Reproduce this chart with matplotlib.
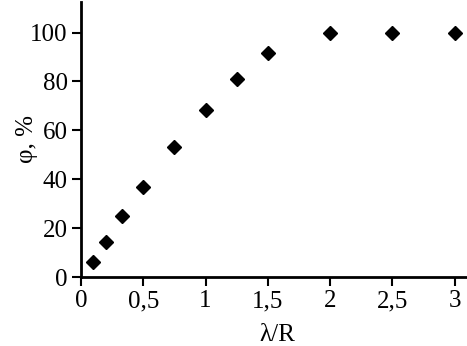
import matplotlib
matplotlib.use("Agg")
import matplotlib.pyplot as plt
from matplotlib.ticker import FuncFormatter

# data
ratio = [0.1, 0.2, 0.33, 0.5, 0.75, 1.0, 1.25, 1.5, 2.0, 2.5, 3.0]
phi = [6, 14.3, 25, 37, 53, 68.5, 81, 91.5, 100, 100, 100]
xticks = [0, 0.5, 1, 1.5, 2, 2.5, 3]
yticks = [0, 20, 40, 60, 80, 100]

plt.rcParams['font.family'] = ['Liberation Serif', 'DejaVu Serif']

fig = plt.figure(figsize=(4.67, 3.46), dpi=100)
ax = fig.add_axes([0.1734, 0.1994, 0.8266, 0.795])

ax.plot(ratio, phi, 'D', color='black', markersize=7.5, linestyle='none')

ax.set_xlim(0, 3.1)
ax.set_ylim(0, 112.5)
ax.set_xticks(xticks)
ax.set_yticks(yticks)
ax.xaxis.set_major_formatter(FuncFormatter(lambda v, p: ('%g' % v).replace('.', ',')))

for s in ['top', 'right']:
    ax.spines[s].set_visible(False)
for s in ['left', 'bottom']:
    ax.spines[s].set_linewidth(2)
ax.tick_params(direction='out', length=6.5, width=1.5, labelsize=18, pad=3)

ax.set_xlabel('λ/R', fontsize=18)
ax.set_ylabel('φ, %', fontsize=18)
ax.xaxis.set_label_coords(0.508, -0.17)
ax.yaxis.set_label_coords(-0.112, 0.5)

fig.savefig('out.png', dpi=100)
